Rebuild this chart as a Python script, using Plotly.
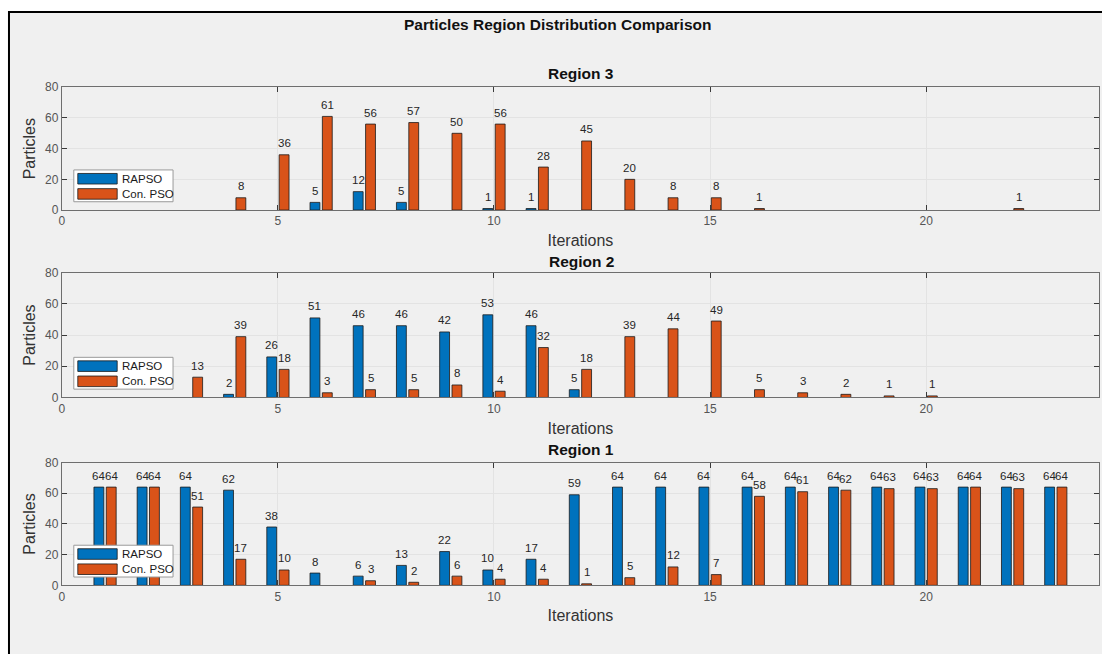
import plotly.graph_objects as go

# Iterations on the x axis
iterations = list(range(1, 24))

# Particle counts per region (RAPSO vs conventional PSO)
region3_rapso = [0, 0, 0, 0, 0, 5, 12, 5, 0, 1, 1, 0, 0, 0, 0, 0, 0, 0, 0, 0, 0, 0, 0]
region3_pso = [0, 0, 0, 8, 36, 61, 56, 57, 50, 56, 28, 45, 20, 8, 8, 1, 0, 0, 0, 0, 0, 1, 0]

region2_rapso = [0, 0, 0, 2, 26, 51, 46, 46, 42, 53, 46, 5, 0, 0, 0, 0, 0, 0, 0, 0, 0, 0, 0]
region2_pso = [0, 0, 13, 39, 18, 3, 5, 5, 8, 4, 32, 18, 39, 44, 49, 5, 3, 2, 1, 1, 0, 0, 0]

region1_rapso = [64, 64, 64, 62, 38, 8, 6, 13, 22, 10, 17, 59, 64, 64, 64, 64, 64, 64, 64, 64, 64, 64, 64]
region1_pso = [64, 64, 51, 17, 10, 0, 3, 2, 6, 4, 4, 1, 5, 12, 7, 58, 61, 62, 63, 63, 64, 63, 64]

series_names = ["RAPSO", "Con. PSO"]
subplot_titles = ["Region 3", "Region 2", "Region 1"]
x_ticks = [0, 5, 10, 15, 20]
y_ticks = [0, 20, 40, 60, 80]

BLUE = "#0072BD"
ORANGE = "#D95319"
FONT = "Liberation Sans, Arial, sans-serif"

W, H = 1102, 654
PLOT_L, PLOT_R = 59, 1099
# (top, bottom) pixel rows of each axes box and the row of its title
rows_px = [(82, 207.5), (271.5, 399), (465.5, 591)]
title_rows = [67.5, 260.5, 452.5]

# grouped-bar geometry (fraction of one iteration step)
BARGAP = 0.4286
SLOT = (1 - BARGAP) / 2
bar_shift = [-SLOT / 2, SLOT / 2]

panels = [
    (region3_rapso, region3_pso),
    (region2_rapso, region2_pso),
    (region1_rapso, region1_pso),
]


def px_x(p):
    return p / W


def px_y(p):
    return 1 - p / H


fig = go.Figure()
shapes = []
annotations = []

for i, (rapso, pso) in enumerate(panels):
    n = i + 1
    xa = "x" if n == 1 else f"x{n}"
    ya = "y" if n == 1 else f"y{n}"
    for s, (vals, name, color) in enumerate(((rapso, series_names[0], BLUE),
                                             (pso, series_names[1], ORANGE))):
        fig.add_trace(go.Bar(
            x=iterations, y=vals, name=name,
            marker=dict(color=color,
                        line=dict(color="#1a1a1a", width=[0.8 if v else 0 for v in vals])),
            xaxis=xa, yaxis=ya, showlegend=False,
            offsetgroup=name,
        ))
        # value labels above each non-zero bar
        for it, v in zip(iterations, vals):
            if v:
                annotations.append(dict(
                    text=str(v), xref=xa, yref=ya, x=it + bar_shift[s], y=v,
                    xanchor="center", yanchor="bottom", yshift=3.5, showarrow=False,
                    font=dict(family=FONT, size=11.5, color="#262626"),
                ))

    top, bot = rows_px[i]
    axis_common = dict(
        showline=True, linecolor="#6e6e6e", linewidth=1, mirror="ticks",
        ticks="inside", ticklen=5, tickcolor="#3a3a3a", tickwidth=1,
        showgrid=True, gridcolor="#e3e3e3", gridwidth=1, zeroline=False,
        tickfont=dict(family=FONT, size=12, color="#555555"),
    )
    fig.layout[f"xaxis{'' if n == 1 else n}"] = dict(
        axis_common, domain=[px_x(PLOT_L), px_x(PLOT_R)], range=[0, 24],
        tickvals=x_ticks, anchor=ya,
        title=dict(text="Iterations", font=dict(family=FONT, size=16, color="#333333"), standoff=7),
    )
    fig.layout[f"yaxis{'' if n == 1 else n}"] = dict(
        axis_common, domain=[px_y(bot), px_y(top)], range=[0, 80],
        tickvals=y_ticks, anchor=xa,
        title=dict(text="Particles", font=dict(family=FONT, size=16, color="#333333"), standoff=5),
    )

    # subplot title
    annotations.append(dict(
        text=f"<b>{subplot_titles[i]}</b>", xref="paper", yref="paper",
        x=px_x(580), y=px_y(title_rows[i]), xanchor="center", yanchor="middle",
        showarrow=False, font=dict(family=FONT, size=15.5, color="#111111"),
    ))

    # legend box drawn inside the lower-left corner of each axes
    dx = f"{xa} domain"
    dy = f"{ya} domain"
    hgt = bot - top
    wid = PLOT_R - PLOT_L

    def fx(p):
        return (p - PLOT_L) / wid

    def fy(p_from_bottom):
        return p_from_bottom / hgt

    box_l, box_r = 71, 170.5
    box_b, box_t = 8.5, 41
    shapes.append(dict(type="rect", xref=dx, yref=dy, x0=fx(box_l), x1=fx(box_r),
                       y0=fy(box_b), y1=fy(box_t), fillcolor="white",
                       line=dict(color="#9a9a9a", width=1), layer="above"))
    for k, (name, color) in enumerate(zip(series_names, (BLUE, ORANGE))):
        cy = box_t - 9 - k * 15.5
        shapes.append(dict(type="rect", xref=dx, yref=dy, x0=fx(75), x1=fx(114.5),
                           y0=fy(cy - 5.4), y1=fy(cy + 5.4), fillcolor=color,
                           line=dict(color="#1a1a1a", width=0.8), layer="above"))
        annotations.append(dict(
            text=name, xref=dx, yref=dy, x=fx(117.5), y=fy(cy),
            xanchor="left", yanchor="middle", showarrow=False,
            font=dict(family=FONT, size=11.5, color="#1a1a1a"),
        ))

# figure frame: grey panel with black top/left border
shapes.insert(0, dict(type="rect", xref="paper", yref="paper",
                      x0=px_x(6), x1=1.02, y0=-0.02, y1=px_y(5),
                      fillcolor="#f0f0f0", line=dict(color="black", width=2), layer="below"))

annotations.append(dict(
    text="<b>Particles Region Distribution Comparison</b>", xref="paper", yref="paper",
    x=px_x(556), y=px_y(17.5), xanchor="center", yanchor="middle", showarrow=False,
    font=dict(family=FONT, size=15.5, color="#111111"),
))

fig.update_layout(
    width=W, height=H, margin=dict(l=0, r=0, t=0, b=0),
    paper_bgcolor="white", plot_bgcolor="white",
    barmode="group", bargap=BARGAP, bargroupgap=0.2,
    shapes=shapes, annotations=annotations, showlegend=False,
    font=dict(family=FONT),
)

fig.write_html("out.html", post_script="document.body.style.margin='0';")
